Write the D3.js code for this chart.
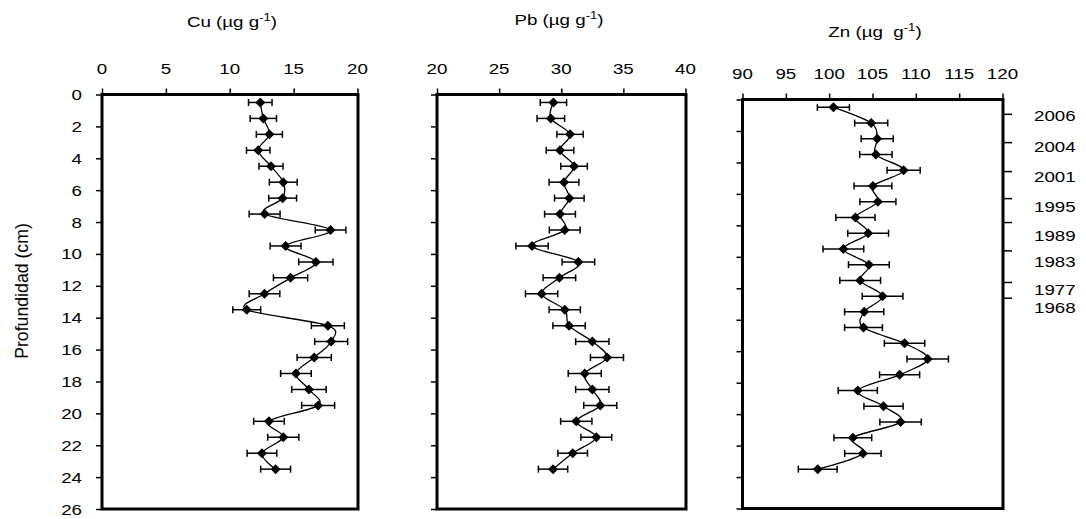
<!DOCTYPE html>
<html><head><meta charset="utf-8">
<script src="https://cdn.jsdelivr.net/npm/d3@7"></script>
<style>
html,body{margin:0;padding:0;background:#fff;}
svg{display:block;font-family:"Liberation Sans",Arial,sans-serif;}
text{fill:#000;white-space:pre;}
</style></head><body>
<svg id="chart" width="1086" height="519"></svg>
<script>
// ---------- data ----------
const depths = [0.5,1.5,2.5,3.5,4.5,5.5,6.5,7.5,8.5,9.5,10.5,11.5,12.5,13.5,14.5,15.5,16.5,17.5,18.5,19.5,20.5,21.5,22.5,23.5];
const cuValues = [12.39,12.63,13.10,12.23,13.23,14.19,14.14,12.73,17.89,14.37,16.74,14.76,12.72,11.33,17.68,17.94,16.61,15.18,16.20,16.92,13.07,14.19,12.52,13.59];
const cuErrors = [0.92,1.03,1.02,0.92,0.94,1.09,1.09,1.21,1.20,1.21,1.34,1.34,1.20,1.09,1.29,1.29,1.34,1.20,1.35,1.29,1.20,1.22,1.16,1.17];
const pbValues = [29.37,29.16,30.71,29.90,31.03,30.22,30.65,29.90,30.28,27.65,31.38,29.85,28.42,30.28,30.63,32.50,33.68,31.89,32.50,33.14,31.21,32.82,30.92,29.34];
const pbErrors = [1.06,1.11,1.06,1.11,1.07,1.20,1.19,1.24,1.24,1.30,1.31,1.31,1.30,1.26,1.30,1.34,1.33,1.33,1.34,1.33,1.26,1.24,1.19,1.18];
const znValues = [100.49,104.85,105.54,105.39,108.59,105.05,105.62,103.03,104.50,101.64,104.58,103.58,106.16,104.04,103.96,108.70,111.37,108.13,103.30,106.27,108.24,102.73,103.89,98.68];
const znErrors = [1.85,1.91,1.85,1.87,1.91,2.18,2.08,2.26,2.35,2.35,2.35,2.35,2.35,2.26,2.18,2.33,2.39,2.31,2.26,2.26,2.39,2.18,2.10,2.24];

const cuTicks = [0,5,10,15,20];
const pbTicks = [20,25,30,35,40];
const znTicks = [90,95,100,105,110,115,120];
const depthTicks = [0,2,4,6,8,10,12,14,16,18,20,22,24,26];
const years = ["2006","2004","2001","1995","1989","1983","1977","1968"];
const yearTickDepths = [0.91,2.71,4.55,6.27,7.79,9.59,11.6,12.6];
const yearLabelDepths = [1.05,3.0,4.93,6.84,8.63,10.33,12.08,13.25];

const yLabel = "Profundidad (cm)";

// ---------- layout ----------
const FS = 15, SX = 1.25;
const panels = [
  {name:"Cu", gap:" ", values:cuValues, errors:cuErrors, ticks:cuTicks, x0:102, x1:357.5, y0:94.5, y1:509, tx:232, ty:27, depthLabels:true, yearAxis:false},
  {name:"Pb", gap:" ", values:pbValues, errors:pbErrors, ticks:pbTicks, x0:437, x1:685.5, y0:94.5, y1:509, tx:559, ty:25, depthLabels:false, yearAxis:false},
  {name:"Zn", gap:"  ", values:znValues, errors:znErrors, ticks:znTicks, x0:742.5, x1:1002.5, y0:99.5, y1:508.5, tx:875, ty:37, depthLabels:false, yearAxis:true}
];

const svg = d3.select("#chart");
svg.append("rect").attr("width",1086).attr("height",519).attr("fill","#fff");

function txt(g, x, y, s, anchor, size, sx){
  return g.append("text")
    .attr("transform", `translate(${x},${y}) scale(${sx||SX},1)`)
    .attr("text-anchor", anchor||"middle")
    .attr("font-size", size||FS)
    .text(s);
}

panels.forEach(p => {
  const dom = d3.extent(p.ticks);
  const x = d3.scaleLinear().domain(dom).range([p.x0, p.x1]);
  const y = d3.scaleLinear().domain([0, 26]).range([p.y0, p.y1]);
  const g = svg.append("g");

  // title with superscript
  const t = g.append("text")
    .attr("transform", `translate(${p.tx},${p.ty}) scale(${SX},1)`)
    .attr("text-anchor","middle").attr("font-size",FS);
  t.append("tspan").text(`${p.name} (µg${p.gap}g`);
  t.append("tspan").attr("font-size",10.5).attr("dy",-6).text("-1");
  t.append("tspan").attr("dy",6).text(")");

  // top axis ticks
  const top = g.append("g").attr("transform",`translate(0,${p.y0})`)
    .call(d3.axisTop(x).tickValues(p.ticks).tickSize(6).tickFormat(""));
  top.select(".domain").remove();
  top.selectAll(".tick line").attr("stroke","#000").attr("stroke-width",1.5);
  p.ticks.forEach(v => txt(g, x(v), p.y0 - 20.5, String(v), "middle"));

  // left axis ticks
  const left = g.append("g").attr("transform",`translate(${p.x0},0)`)
    .call(d3.axisLeft(y).tickValues(depthTicks).tickSize(6).tickFormat(""));
  left.select(".domain").remove();
  left.selectAll(".tick line").attr("stroke","#000").attr("stroke-width",1.5);
  if (p.depthLabels) {
    depthTicks.forEach(d => txt(g, p.x0 - 20, y(d) + 5.5, String(d), "end"));
  }

  // frame
  g.append("rect").attr("x",p.x0).attr("y",p.y0)
    .attr("width",p.x1 - p.x0 + 0.5).attr("height",p.y1 - p.y0)
    .attr("fill","none").attr("stroke","#000").attr("stroke-width",3);

  // year axis on the right
  if (p.yearAxis) {
    const right = g.append("g").attr("transform",`translate(${p.x1+0.5},0)`)
      .call(d3.axisRight(y).tickValues(yearTickDepths).tickSize(9).tickFormat(""));
    right.select(".domain").remove();
    right.selectAll(".tick line").attr("stroke","#000").attr("stroke-width",1.5);
    years.forEach((yr,i) => txt(g, p.x1 + 31.5, y(yearLabelDepths[i]) + 5.3, yr, "start"));
  }

  const pts = depths.map((d,i) => ({d, v:p.values[i], e:p.errors[i]}));

  // smoothed line
  g.append("path").datum(pts)
    .attr("d", d3.line().x(q=>x(q.v)).y(q=>y(q.d)).curve(d3.curveCardinal.tension(0)))
    .attr("fill","none").attr("stroke","#000").attr("stroke-width",1.3);

  // error bars
  const eb = g.append("g").attr("stroke","#000").attr("stroke-width",1.5);
  pts.forEach(q => {
    const yy = y(q.d), xa = x(q.v - q.e), xb = x(q.v + q.e);
    eb.append("line").attr("x1",xa).attr("x2",xb).attr("y1",yy).attr("y2",yy);
    eb.append("line").attr("x1",xa).attr("x2",xa).attr("y1",yy-3.5).attr("y2",yy+3.5);
    eb.append("line").attr("x1",xb).attr("x2",xb).attr("y1",yy-3.5).attr("y2",yy+3.5);
  });

  // diamond markers
  g.append("g").selectAll("path").data(pts).join("path")
    .attr("d", q => { const cx=x(q.v), cy=y(q.d), r=5; return `M${cx},${cy-r}L${cx+r},${cy}L${cx},${cy+r}L${cx-r},${cy}Z`; })
    .attr("fill","#000");
});

// y axis title
svg.append("text")
  .attr("transform","translate(28,291) rotate(-90) scale(1.18,1.25)")
  .attr("text-anchor","middle").attr("font-size",FS)
  .text(yLabel);
</script>
</body></html>
